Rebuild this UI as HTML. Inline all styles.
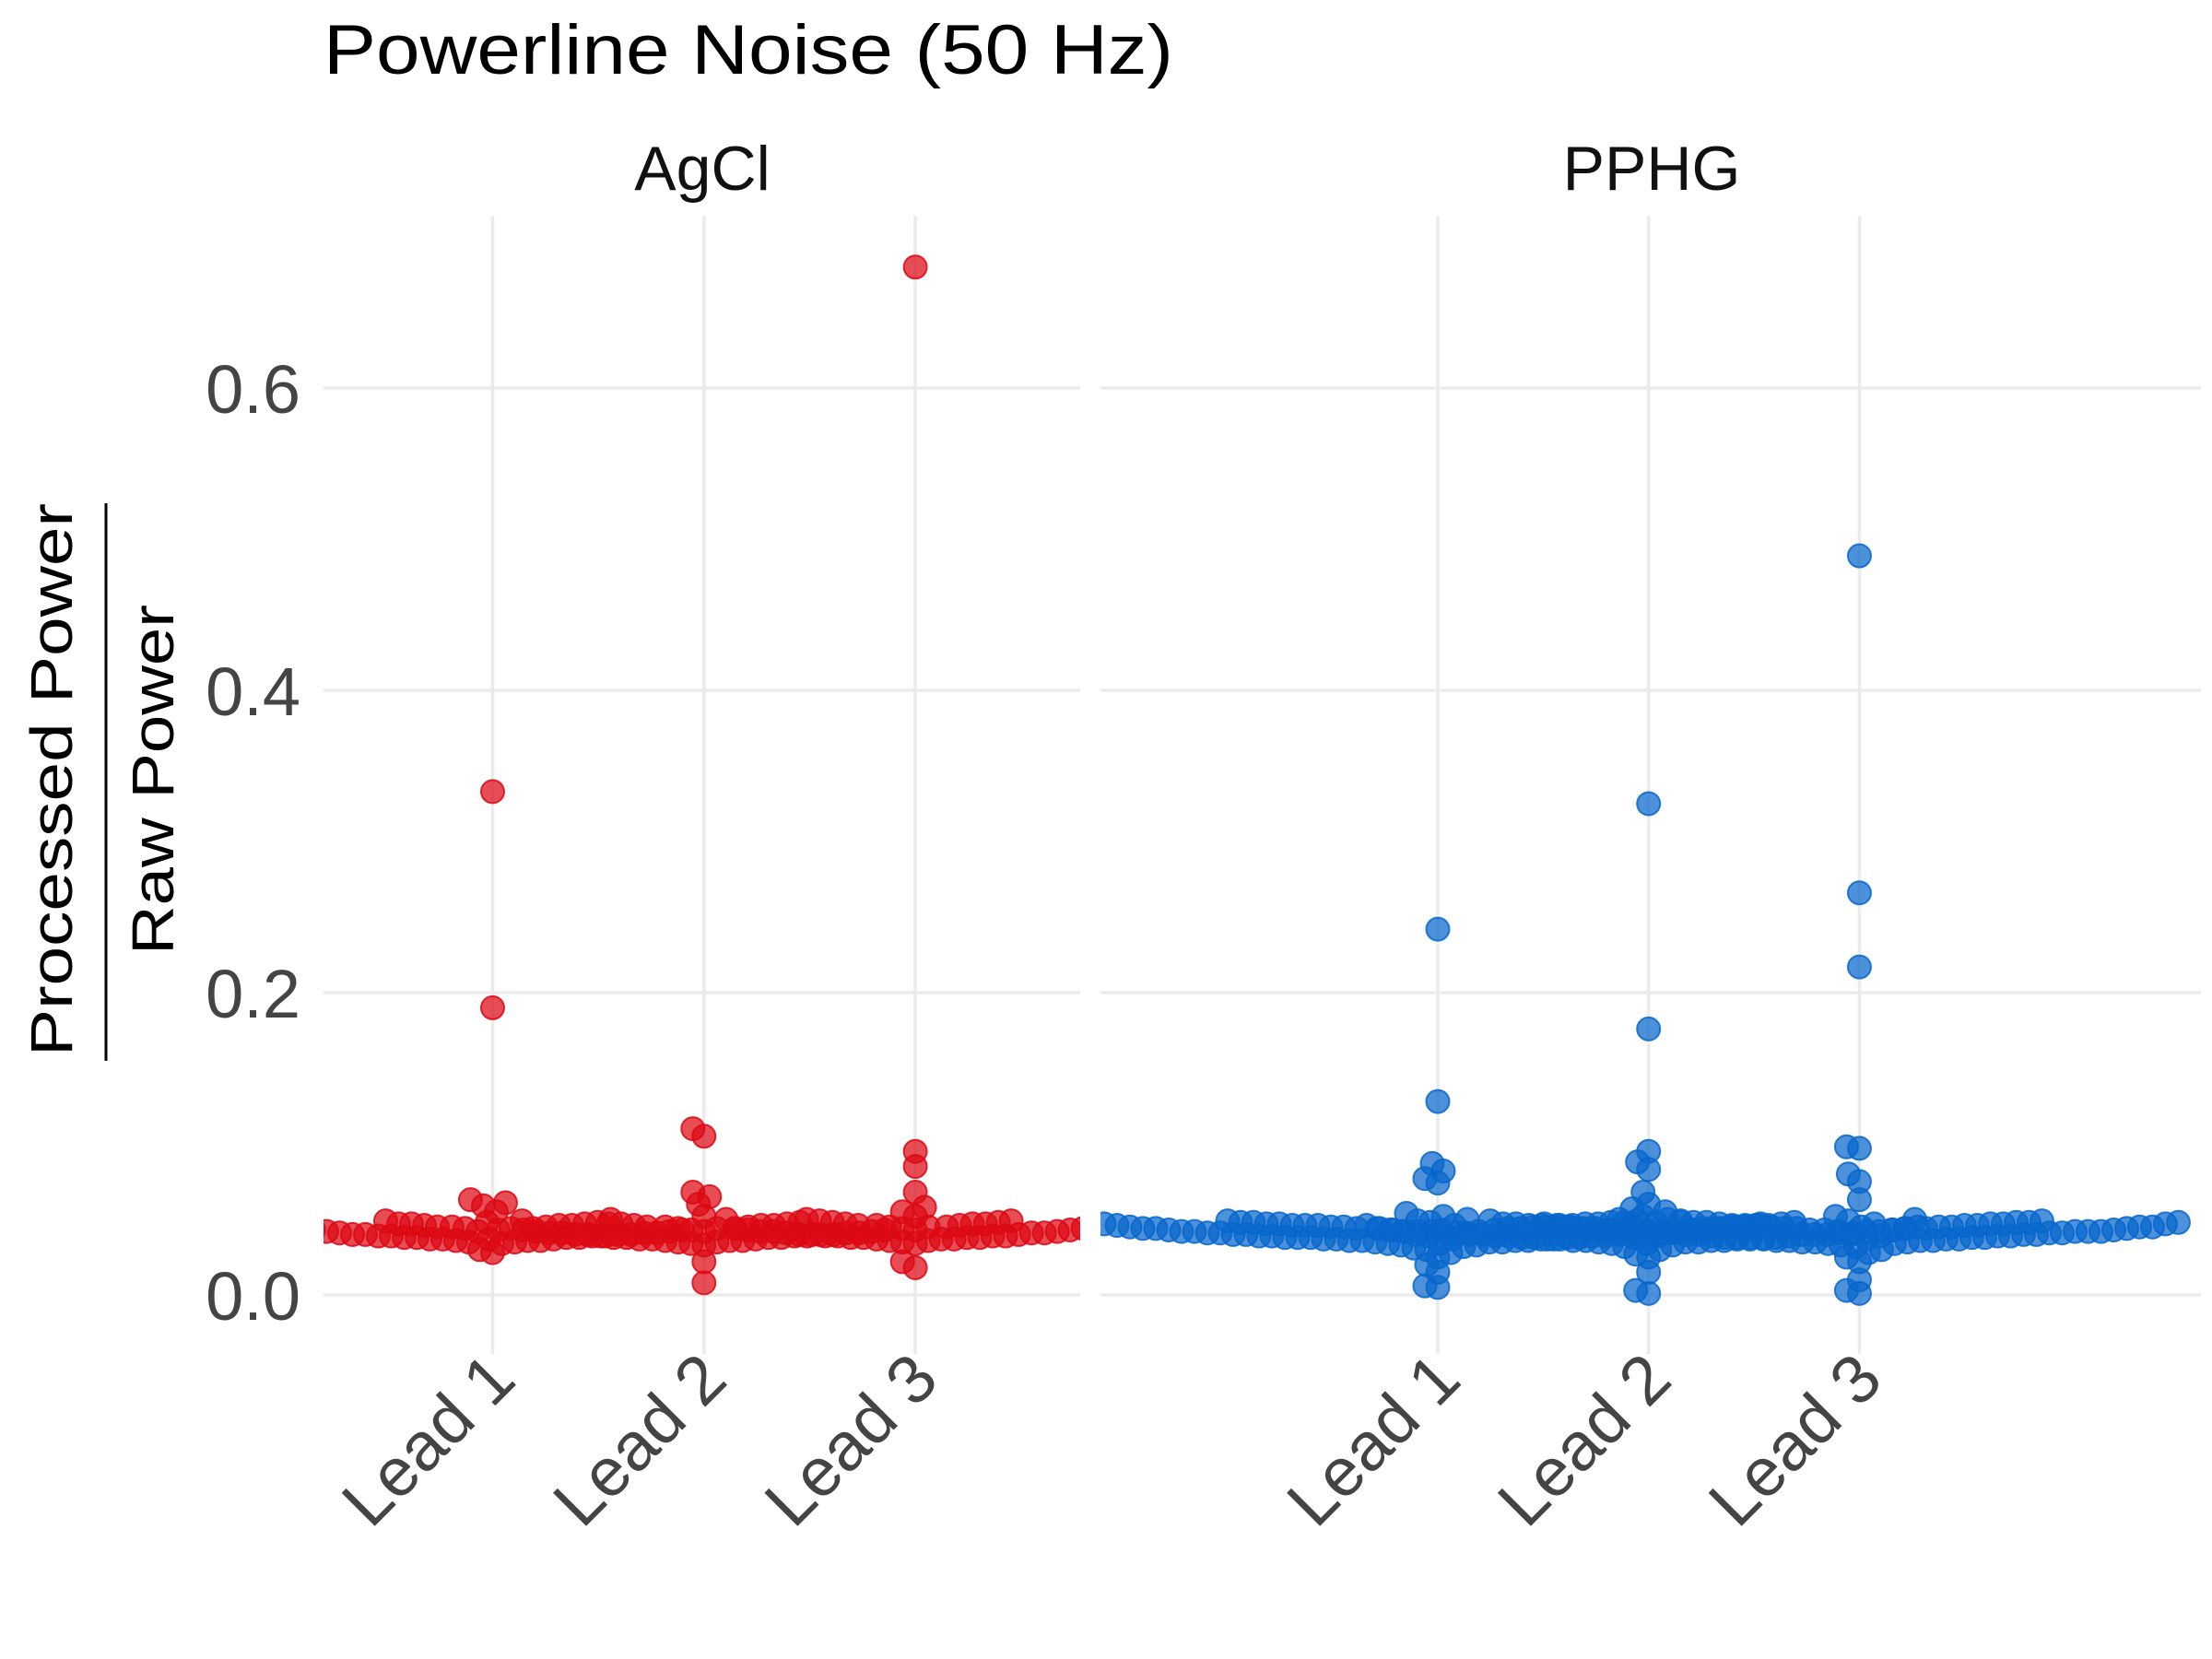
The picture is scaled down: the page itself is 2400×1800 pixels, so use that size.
<!DOCTYPE html>
<html><head><meta charset="utf-8"><style>
html,body{margin:0;padding:0;background:#fff;}
svg{display:block;font-family:"Liberation Sans","DejaVu Sans",sans-serif;}
</style></head><body>
<svg id="chart" width="2400" height="1800" viewBox="0 0 2400 1800">
<rect x="0" y="0" width="2400" height="1800" fill="#fff"/>
<text x="351" y="80" font-size="76" fill="#000" textLength="922" lengthAdjust="spacingAndGlyphs">Powerline Noise (50 Hz)</text>
<text x="762" y="206" font-size="68" fill="#111" text-anchor="middle">AgCl</text>
<text x="1792" y="206" font-size="68" fill="#111" text-anchor="middle">PPHG</text>
<g>
<text transform="translate(78,846) rotate(-90)" font-size="64" fill="#000" text-anchor="middle" textLength="600" lengthAdjust="spacingAndGlyphs">Processed Power</text>
<line x1="115" y1="546" x2="115" y2="1151" stroke="#000" stroke-width="3"/>
<text transform="translate(188,846) rotate(-90)" font-size="64" fill="#000" text-anchor="middle" textLength="380" lengthAdjust="spacingAndGlyphs">Raw Power</text>
</g>
<g id="layer"></g>
</svg>
<script>
const yTicks = [0, 0.2, 0.4, 0.6];
const yTickLabels = ["0.0", "0.2", "0.4", "0.6"];
const leads = ["Lead 1", "Lead 2", "Lead 3"];
const panelNames = ["AgCl", "PPHG"];
const agclLead1 = [0.333,0.19,0.063,0.061,0.059,0.055,0.05,0.03,0.028,0.034,0.035,0.035,0.036,0.036,0.036,0.037,0.037,0.037,0.037,0.038,0.038,0.038,0.038,0.039,0.039,0.039,0.039,0.040,0.040,0.040,0.040,0.041,0.041,0.041,0.042,0.042,0.042,0.043,0.043,0.043,0.044,0.044,0.045,0.045,0.046,0.046,0.047,0.047,0.048,0.049,0.044,0.045,0.046,0.047,0.048,0.049];
const agclLead2 = [0.11,0.105,0.068,0.065,0.06,0.052,0.05,0.022,0.008,0.033,0.034,0.035,0.035,0.036,0.036,0.036,0.037,0.037,0.037,0.038,0.038,0.038,0.038,0.039,0.039,0.039,0.040,0.040,0.040,0.040,0.041,0.041,0.041,0.041,0.042,0.042,0.042,0.043,0.043,0.044,0.044,0.044,0.045,0.045,0.046,0.046,0.047,0.047,0.048,0.043,0.045,0.046,0.047];
const agclLead3 = [0.68,0.095,0.085,0.068,0.058,0.055,0.052,0.05,0.022,0.018,0.034,0.035,0.036,0.036,0.037,0.037,0.037,0.038,0.038,0.038,0.038,0.039,0.039,0.039,0.039,0.040,0.040,0.040,0.041,0.041,0.041,0.042,0.042,0.042,0.043,0.043,0.043,0.044,0.044,0.045,0.045,0.046,0.046,0.047,0.047,0.048,0.049,0.044,0.045,0.046,0.047,0.048,0.049];
const pphgLead1 = [0.242,0.128,0.087,0.082,0.077,0.074,0.015,0.006,0.005,0.02,0.025,0.028,0.03,0.031,0.032,0.033,0.033,0.034,0.034,0.035,0.035,0.035,0.036,0.036,0.036,0.036,0.037,0.037,0.037,0.037,0.037,0.038,0.038,0.038,0.038,0.038,0.039,0.039,0.039,0.039,0.039,0.040,0.040,0.040,0.040,0.040,0.041,0.041,0.041,0.041,0.042,0.042,0.042,0.042,0.043,0.043,0.043,0.044,0.044,0.044,0.045,0.045,0.045,0.046,0.046,0.047,0.047,0.048,0.048,0.049,0.050,0.052,0.054,0.041,0.042,0.042,0.043,0.043,0.043,0.044,0.044,0.044,0.044,0.045,0.045,0.045,0.045,0.046,0.046,0.046,0.046,0.046,0.047,0.047,0.047,0.047,0.048,0.048,0.048,0.049,0.049];
const pphgLead2 = [0.325,0.176,0.095,0.088,0.083,0.068,0.06,0.015,0.003,0.001,0.025,0.027,0.03,0.032,0.033,0.034,0.034,0.035,0.035,0.035,0.036,0.036,0.036,0.036,0.037,0.037,0.037,0.037,0.038,0.038,0.038,0.038,0.038,0.039,0.039,0.039,0.039,0.040,0.040,0.040,0.040,0.040,0.041,0.041,0.041,0.041,0.042,0.042,0.042,0.042,0.043,0.043,0.043,0.044,0.044,0.044,0.045,0.045,0.046,0.046,0.047,0.048,0.049,0.050,0.052,0.055,0.057,0.041,0.042,0.042,0.043,0.043,0.044,0.044,0.044,0.045,0.045,0.045,0.046,0.046,0.046,0.047,0.047,0.047,0.048,0.048];
const pphgLead3 = [0.489,0.266,0.217,0.098,0.097,0.08,0.075,0.063,0.01,0.003,0.001,0.025,0.022,0.028,0.03,0.032,0.033,0.034,0.034,0.035,0.035,0.035,0.036,0.036,0.036,0.036,0.037,0.037,0.037,0.037,0.038,0.038,0.038,0.038,0.038,0.039,0.039,0.039,0.039,0.040,0.040,0.040,0.040,0.040,0.041,0.041,0.041,0.041,0.042,0.042,0.042,0.042,0.043,0.043,0.043,0.044,0.044,0.044,0.045,0.045,0.045,0.046,0.046,0.047,0.047,0.048,0.048,0.049,0.050,0.052,0.041,0.042,0.042,0.043,0.043,0.043,0.044,0.044,0.044,0.045,0.045,0.045,0.045,0.046,0.046,0.046,0.046,0.047,0.047,0.047,0.047,0.048,0.048,0.048,0.049,0.049,0.050];

const NS = "http://www.w3.org/2000/svg";
const layer = document.getElementById("layer");
const plotTop = 234, plotBottom = 1469;
const yScale = v => 1405 - v * 1640;
const panels = [
  {name: "agcl", left: 351, right: 1172, lo: 0.2, hi: 3.78, color: "#dc0814", series: [agclLead1, agclLead2, agclLead3]},
  {name: "pphg", left: 1194, right: 2388, lo: -0.6, hi: 4.62, color: "#0766cc", series: [pphgLead1, pphgLead2, pphgLead3]}
];
function mk(tag, attrs) { const e = document.createElementNS(NS, tag); for (const k in attrs) e.setAttribute(k, attrs[k]); return e; }

yTicks.forEach((t, i) => {
  const tx = mk("text", {x: 326, y: yScale(t) + 27, "font-size": 74, fill: "#444", "text-anchor": "end"});
  tx.textContent = yTickLabels[i];
  
  
  layer.appendChild(tx);
});

function swarm(vals, cx, s) {
  const order = vals.map((v, i) => i).sort((a, b) => vals[a] - vals[b]);
  const placed = [];
  const out = new Array(vals.length);
  order.forEach(i => {
    const py = yScale(vals[i]);
    let best = null;
    for (let k = 0; k < 600 && best === null; k++) {
      const offs = k === 0 ? [0] : [-k * 2, k * 2];
      for (const o of offs) {
        let ok = true;
        for (const p of placed) { const dx = p.x - (cx + o), dy = p.y - py; if (dx * dx + dy * dy < s * s) { ok = false; break; } }
        if (ok) { best = cx + o; break; }
      }
    }
    placed.push({x: best, y: py});
    out[i] = {x: best, y: py};
  });
  return out;
}

panels.forEach((P, pi) => {
  const xScale = i => P.left + (i + 1 - P.lo) / (P.hi - P.lo) * (P.right - P.left);
  const g = mk("g", {});
  
  
  layer.appendChild(g);
  const clip = mk("clipPath", {id: "clip" + pi});
  clip.appendChild(mk("rect", {x: P.left, y: plotTop, width: P.right - P.left, height: plotBottom - plotTop}));
  g.appendChild(clip);
  yTicks.forEach(t => {
    const l = mk("line", {x1: P.left, x2: P.right, y1: yScale(t), y2: yScale(t), stroke: "#ebebeb", "stroke-width": 3.5});
    
    
    g.appendChild(l);
  });
  leads.forEach((ld, li) => {
    const x = xScale(li);
    const l = mk("line", {x1: x, x2: x, y1: plotTop, y2: plotBottom, stroke: "#ebebeb", "stroke-width": 3.5});
    
    
    g.appendChild(l);
    const tx = mk("text", {transform: `translate(${x + 28},1500) rotate(-45)`, "font-size": 74, fill: "#444", "text-anchor": "end"});
    tx.textContent = ld;
    
    
    g.appendChild(tx);
  });
  const pts = mk("g", {"clip-path": `url(#clip${pi})`});
  
  
  g.appendChild(pts);
  P.series.forEach((vals, li) => {
    const pos = swarm(vals, xScale(li), 14);
    pos.forEach(p => {
      const c = mk("circle", {cx: p.x, cy: p.y, r: 12.5, fill: P.color, "fill-opacity": 0.72, stroke: P.color, "stroke-opacity": 0.85, "stroke-width": 2});
      
      
      pts.appendChild(c);
    });
  });
});
</script>
</body></html>
